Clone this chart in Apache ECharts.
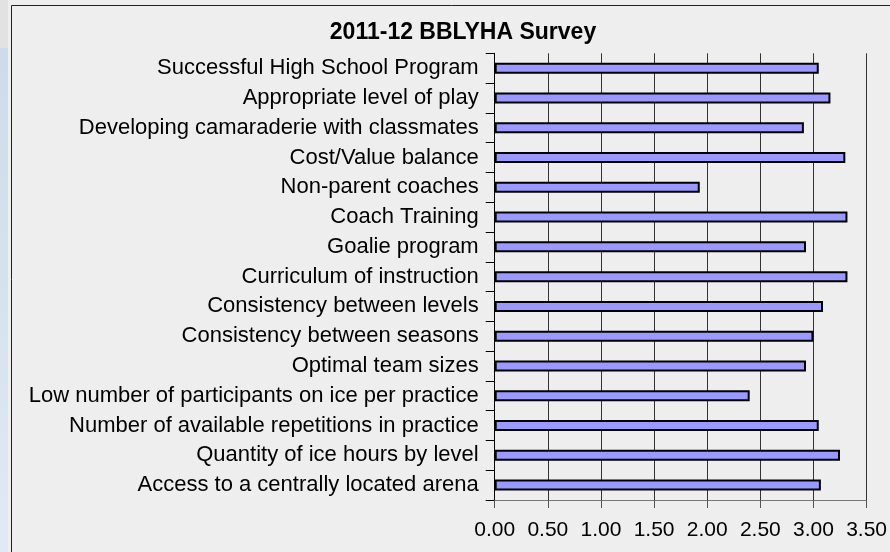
<!DOCTYPE html>
<html>
<head>
<meta charset="utf-8">
<script src="https://cdn.jsdelivr.net/npm/echarts@6/dist/echarts.min.js"></script>
<style>
html,body{margin:0;padding:0;background:#eeeeee;}
#chart{width:890px;height:552px;}
</style>
</head>
<body>
<div id="chart"></div>
<script>
const titleText = '2011-12 BBLYHA Survey';
const categories = [
  'Successful High School Program',
  'Appropriate level of play',
  'Developing camaraderie with classmates',
  'Cost/Value balance',
  'Non-parent coaches',
  'Coach Training',
  'Goalie program',
  'Curriculum of instruction',
  'Consistency between levels',
  'Consistency between seasons',
  'Optimal team sizes',
  'Low number of participants on ice per practice',
  'Number of available repetitions in practice',
  'Quantity of ice hours by level',
  'Access to a centrally located arena'
];
const values = [3.05, 3.16, 2.91, 3.30, 1.93, 3.32, 2.93, 3.32, 3.09, 3.00, 2.93, 2.40, 3.05, 3.25, 3.07];
const xTicks = [0, 0.5, 1, 1.5, 2, 2.5, 3, 3.5];

const chart = echarts.init(document.getElementById('chart'), null, {renderer: 'canvas'});
const font = '"Liberation Sans", Arial, sans-serif';
chart.setOption({
  backgroundColor: '#eeeeee',
  animation: false,
  graphic: [
    {type: 'rect', shape: {x: 0, y: 0, width: 8, height: 48}, style: {fill: '#e2e2e2'}, silent: true},
    {type: 'rect', shape: {x: 0, y: 48, width: 8, height: 504}, style: {
      fill: new echarts.graphic.LinearGradient(0, 0, 0, 1, [{offset: 0, color: '#cfdbea'}, {offset: 1, color: '#dfe9f7'}])
    }, silent: true},
    {type: 'rect', shape: {x: 11.5, y: 5.5, width: 900, height: 600}, style: {fill: 'none', stroke: '#222', lineWidth: 1}, silent: true}
  ],
  title: {
    text: titleText,
    left: 458, top: 16,
    textAlign: 'center',
    textStyle: {fontFamily: font, fontSize: 23, fontWeight: 'bold', color: '#000'}
  },
  grid: {left: 494.7, right: 19.3, top: 53.3, bottom: 52, containLabel: false},
  xAxis: {
    type: 'value',
    min: xTicks[0], max: xTicks[xTicks.length - 1], interval: 0.5,
    axisLine: {show: true, lineStyle: {color: '#777', width: 1}},
    axisTick: {show: true, length: 8, lineStyle: {color: '#555'}},
    splitLine: {show: true, lineStyle: {color: '#333', width: 1}},
    axisLabel: {
      fontFamily: font, fontSize: 21, color: '#000', margin: 20,
      formatter: v => v.toFixed(2)
    }
  },
  yAxis: {
    type: 'category',
    data: categories,
    inverse: true,
    axisLine: {show: true, lineStyle: {color: '#000', width: 1}},
    axisTick: {show: true, length: 9, lineStyle: {color: '#000'}},
    axisLabel: {fontFamily: font, fontSize: 22, color: '#000', margin: 16}
  },
  series: [{
    type: 'bar',
    data: values,
    barWidth: 11,
    itemStyle: {color: '#9999ff', borderColor: '#000', borderWidth: 2}
  }]
});
</script>
</body>
</html>
